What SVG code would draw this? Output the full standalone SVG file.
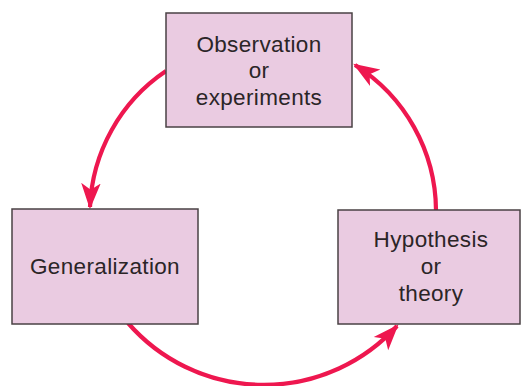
<svg xmlns="http://www.w3.org/2000/svg" width="521" height="386" viewBox="0 0 521 386">
<style>
.box{fill:#EACBE1;stroke:#4a4244;stroke-width:1.5}
.lbl{font-family:"Liberation Sans",Arial,sans-serif;font-size:22.5px;letter-spacing:0.35px;fill:#2b2527;text-anchor:middle}
.arr{fill:none;stroke:#EE174F;stroke-width:4.2;marker-end:url(#head)}
</style>
<defs>
<marker id="head" markerUnits="userSpaceOnUse" markerWidth="26" markerHeight="22" viewBox="0 0 24 18" refX="22" refY="9" orient="auto">
<path d="M0,0 L24,9 L0,18 L6,9 Z" fill="#EE174F"/>
</marker>
</defs>
<g id="connectors">
<path class="arr" d="M166,71 A172,172 0 0,0 90,207"/>
<path class="arr" d="M128,323 A180,180 0 0,0 397,326"/>
<path class="arr" d="M436,210 A173,173 0 0,0 355,65"/>
</g>
<g id="observation">
<rect class="box" x="166" y="13" width="186" height="114"/>
<text class="lbl" x="259" y="52">Observation</text>
<text class="lbl" x="259" y="78">or</text>
<text class="lbl" x="259" y="105">experiments</text>
</g>
<g id="generalization">
<rect class="box" x="12" y="209" width="186" height="115"/>
<text class="lbl" x="105" y="274">Generalization</text>
</g>
<g id="hypothesis">
<rect class="box" x="338" y="210" width="182" height="114"/>
<text class="lbl" x="431" y="247">Hypothesis</text>
<text class="lbl" x="431" y="274">or</text>
<text class="lbl" x="431" y="301">theory</text>
</g>
</svg>
